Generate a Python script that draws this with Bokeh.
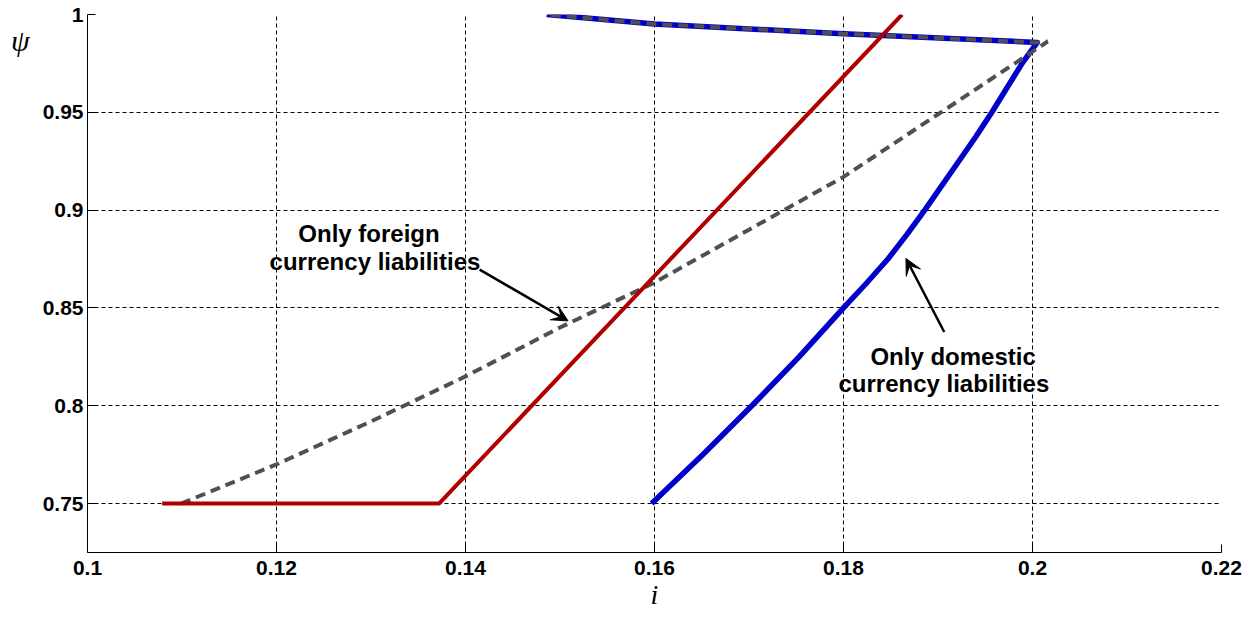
from bokeh.plotting import figure
from bokeh.models import Range1d, FixedTicker, Label, Arrow, VeeHead
from bokeh.embed import file_html
from bokeh.resources import INLINE

# ---- data ----
red_x = [0.1079, 0.1372, 0.1862]
red_y = [0.75, 0.75, 1.0]

blue_x = [0.1597, 0.1651, 0.1703, 0.1753, 0.1800, 0.1824, 0.1847, 0.1867,
          0.1886, 0.1904, 0.1922, 0.1940, 0.1957, 0.1989, 0.2005,
          0.1800, 0.1600, 0.1486]
blue_y = [0.750, 0.775, 0.800, 0.825, 0.850, 0.8625, 0.875, 0.8875,
          0.900, 0.9125, 0.925, 0.9375, 0.950, 0.975, 0.9857,
          0.9902, 0.9951, 1.000]

gray_x = [0.1099, 0.1200, 0.1300, 0.1400, 0.1500, 0.1600, 0.1700, 0.1800,
          0.1900, 0.2000, 0.2016, 0.2005, 0.1800, 0.1600, 0.1486]
gray_y = [0.750, 0.770, 0.792, 0.815, 0.840, 0.863, 0.890, 0.917,
          0.949, 0.981, 0.9862, 0.9857, 0.9902, 0.9951, 1.000]

x_ticks = [0.1, 0.12, 0.14, 0.16, 0.18, 0.2, 0.22]
x_tick_labels = ["0.1", "0.12", "0.14", "0.16", "0.18", "0.2", "0.22"]
y_ticks = [0.75, 0.8, 0.85, 0.9, 0.95, 1.0]
y_tick_labels = ["0.75", "0.8", "0.85", "0.9", "0.95", "1"]

foreign_lines = ["Only foreign", "currency liabilities"]
domestic_lines = ["Only domestic", "currency liabilities"]

# ---- figure ----
p = figure(output_backend="svg", toolbar_location=None,
           frame_width=1134, frame_height=538,
           min_border_left=87, min_border_right=23,
           min_border_top=14, min_border_bottom=60,
           x_range=Range1d(0.1, 0.22), y_range=Range1d(0.725, 1.0))
p.outline_line_color = None
p.background_fill_color = "white"
p.border_fill_color = "white"

for ax, ticks, labels in ((p.xaxis[0], x_ticks, x_tick_labels),
                          (p.yaxis[0], y_ticks, y_tick_labels)):
    ax.ticker = FixedTicker(ticks=ticks)
    ax.major_label_overrides = {t: l for t, l in zip(ticks, labels)}
    ax.major_label_text_font = "Liberation Sans"
    ax.major_label_text_font_style = "bold"
    ax.major_label_text_font_size = "21px"
    ax.major_label_text_color = "black"
    ax.axis_line_color = "black"
    ax.axis_line_width = 1
    ax.major_tick_in = 8
    ax.major_tick_out = 0
    ax.major_tick_line_color = "black"
    ax.minor_tick_line_color = None
    ax.axis_label_text_font = "Liberation Serif"
    ax.axis_label_text_font_style = "italic"
    ax.axis_label_text_color = "black"

p.xaxis.major_label_standoff = 8
p.yaxis.major_label_standoff = 4

# axis labels
p.xaxis.axis_label = "i"
p.xaxis.axis_label_text_font_size = "28px"
p.xaxis.axis_label_standoff = 1

p.yaxis.axis_label = "\nψ"
p.yaxis.axis_label_text_font_size = "30px"
p.yaxis.axis_label_text_line_height = 1.6
p.yaxis.axis_label_standoff = 10
p.yaxis.axis_label_orientation = "horizontal"
if "axis_label_align" in p.yaxis[0].properties():
    p.yaxis.axis_label_align = "end"

for g, ticks in ((p.xgrid[0], x_ticks), (p.ygrid[0], y_ticks)):
    g.ticker = FixedTicker(ticks=ticks)
    g.grid_line_color = "black"
    g.grid_line_dash = "4 3"
    g.grid_line_width = 1
    g.grid_line_alpha = 1.0

# ---- curves ----
p.line(blue_x, blue_y, line_color="#0000C8", line_width=5.5,
       line_join="round")
p.line(gray_x, gray_y, line_color="#505050", line_width=4, line_dash="10 6")
p.line(red_x, red_y, line_color="#B00000", line_width=4)

# ---- annotations ----
def add_text(txt, x, y):
    p.add_layout(Label(x=x, y=y, text=txt, text_font="Liberation Sans",
                       text_font_style="bold", text_font_size="24px",
                       text_color="black", text_align="center",
                       text_baseline="alphabetic"))

add_text(foreign_lines[0], 0.12979, 0.8882)
add_text(foreign_lines[1], 0.13042, 0.8739)
add_text(domestic_lines[0], 0.19160, 0.8253)
add_text(domestic_lines[1], 0.19062, 0.8115)

p.add_layout(Arrow(end=VeeHead(size=16, fill_color="black", line_color="black"),
                   x_start=0.1415, y_start=0.8696, x_end=0.15085, y_end=0.8434,
                   line_color="black", line_width=2.5))
p.add_layout(Arrow(end=VeeHead(size=16, fill_color="black", line_color="black"),
                   x_start=0.19066, y_start=0.8377, x_end=0.18661, y_end=0.8753,
                   line_color="black", line_width=2.5))

open("out.html", "w").write(file_html(p, INLINE))
